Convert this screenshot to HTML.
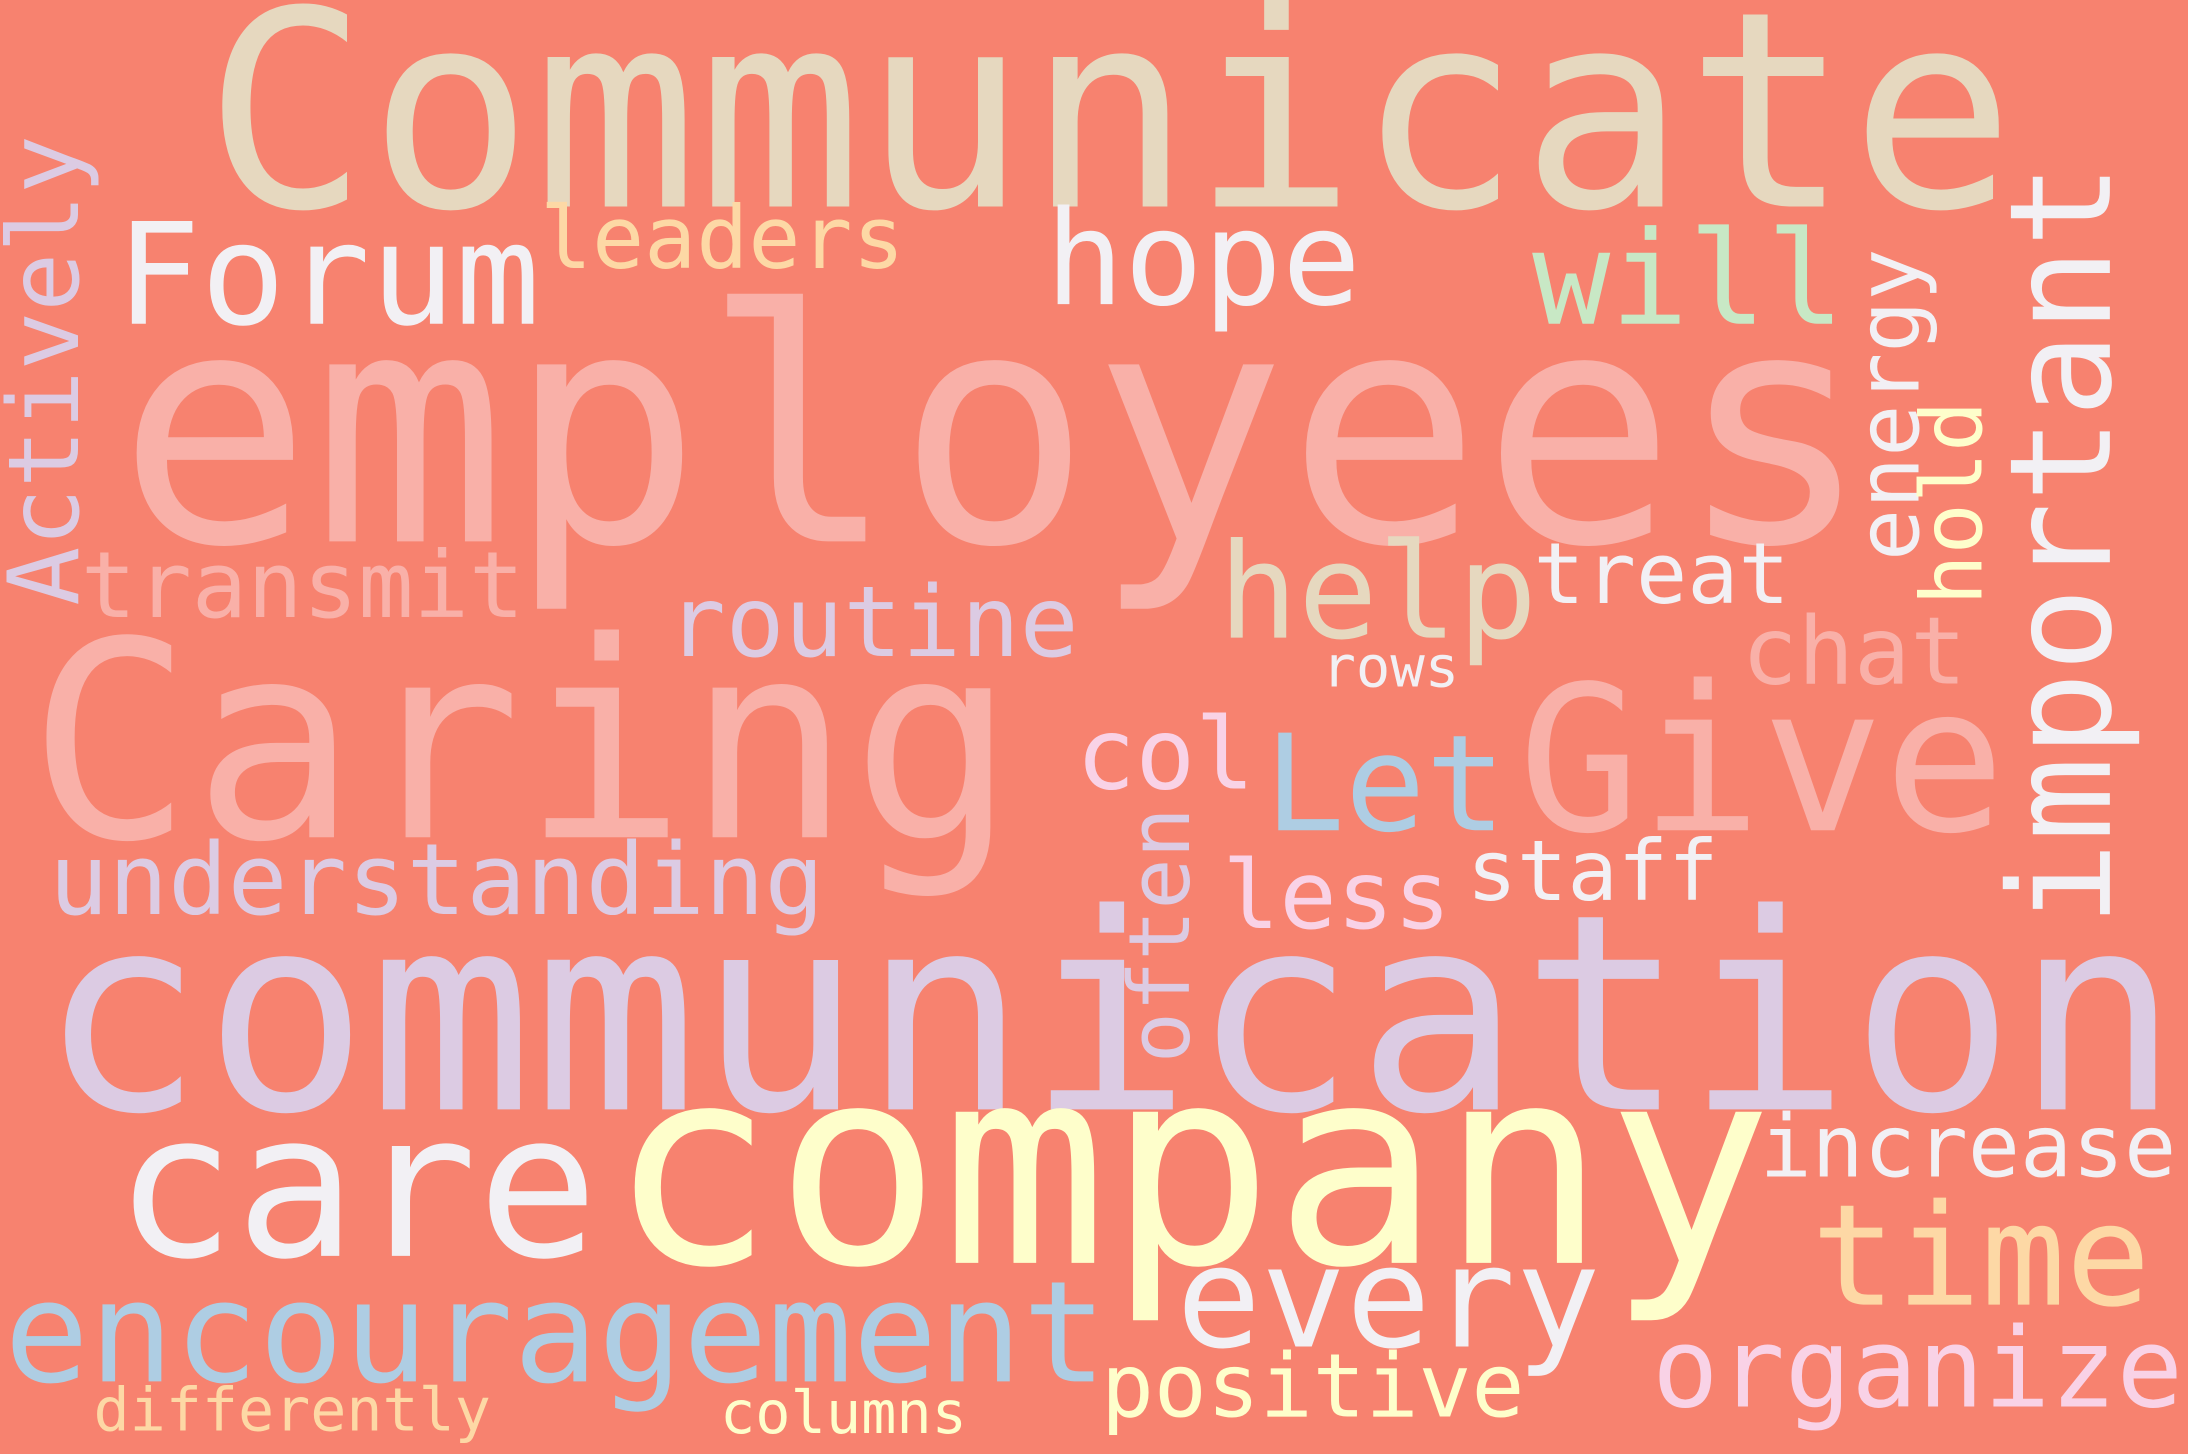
<!DOCTYPE html>
<html><head><meta charset="utf-8"><style>
html,body{margin:0;padding:0;background:#f7826f;}
svg{display:block}
text{font-family:"DejaVu Sans Mono","Liberation Mono",monospace;}
</style></head><body>
<svg width="2188" height="1454" viewBox="0 0 1568 1042" preserveAspectRatio="none" xmlns="http://www.w3.org/2000/svg">
<rect x="0" y="0" width="1568" height="1042" fill="#f7826f"/>
<text x="146" y="148" font-size="196" fill="#e6d8bf">Communicate</text>
<text x="84" y="388" font-size="232" fill="#f9b0a8">employees</text>
<text x="20" y="600" font-size="196" fill="#f9b0a8">Caring</text>
<text x="28" y="795" font-size="196" fill="#dccbe3">communication</text>
<text x="82" y="900" font-size="144" fill="#f2f0f4">care</text>
<text x="436" y="905" font-size="198" fill="#fefecb">company</text>
<text x="3" y="990" font-size="101" fill="#aecde3">encouragement</text>
<text x="843" y="965" font-size="101" fill="#f2f0f4">every</text>
<text x="1298" y="935" font-size="101" fill="#fdd8a5">time</text>
<text x="1184" y="1008" font-size="79" fill="#f9d2e6">organize</text>
<text x="1261" y="843" font-size="62" fill="#f2f0f4">increase</text>
<text x="789" y="1015" font-size="63" fill="#fefecb">positive</text>
<text x="516" y="1027" font-size="42" fill="#fefecb">columns</text>
<text x="67" y="1025" font-size="43" fill="#fdd8a5">differently</text>
<text x="35" y="655" font-size="71" fill="#dccbe3">understanding</text>
<text x="58" y="442" font-size="66" fill="#f9b0a8">transmit</text>
<text x="478" y="470" font-size="70" fill="#dccbe3">routine</text>
<text x="83" y="232" font-size="101" fill="#f2f0f4">Forum</text>
<text x="387" y="192" font-size="62" fill="#fdd8a5">leaders</text>
<text x="749" y="218" font-size="94" fill="#f2f0f4">hope</text>
<text x="1098" y="232" font-size="93" fill="#c8e8c5">will</text>
<text x="873" y="457" font-size="95" fill="#e6d8bf">help</text>
<text x="1099" y="432" font-size="61" fill="#f2f0f4">treat</text>
<text x="947" y="492" font-size="41" fill="#f2f0f4">rows</text>
<text x="1248" y="490" font-size="67" fill="#f9b0a8">chat</text>
<text x="771" y="565" font-size="71" fill="#f9d2e6">col</text>
<text x="906" y="595" font-size="96" fill="#aecde3">Let</text>
<text x="1088" y="595" font-size="145" fill="#f9b0a8">Give</text>
<text x="1051" y="645" font-size="60" fill="#f2f0f4">staff</text>
<text x="876" y="665" font-size="68" fill="#f9d2e6">less</text>
<text transform="translate(852,762) rotate(-90)" font-size="61" fill="#dccbe3">often</text>
<text transform="translate(56,434) rotate(-90)" font-size="70" fill="#dccbe3">Actively</text>
<text transform="translate(1375,402) rotate(-90)" font-size="62" fill="#f2f0f4">energy</text>
<text transform="translate(1420,434) rotate(-90)" font-size="61" fill="#fefecb">hold</text>
<text transform="translate(1512,664) rotate(-90)" font-size="101" fill="#f2f0f4">important</text>
</svg>
</body></html>
